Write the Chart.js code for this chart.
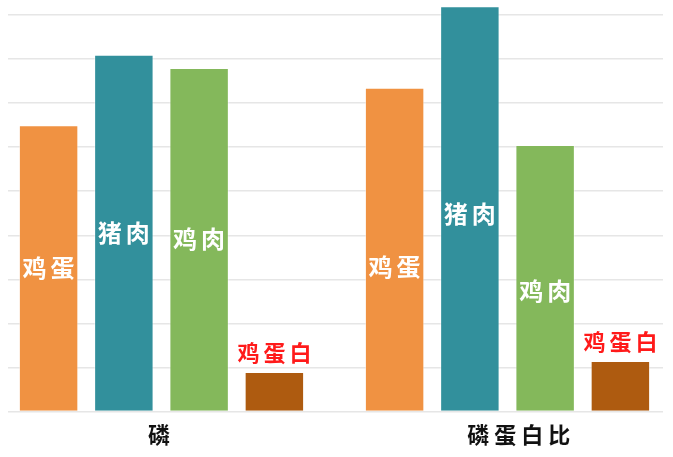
<!DOCTYPE html>
<html>
<head>
<meta charset="utf-8">
<script src="https://cdn.jsdelivr.net/npm/chart.js@4.4.1/dist/chart.umd.min.js"></script>
<style>
  html, body { margin: 0; padding: 0; background: #ffffff; }
  #wrap { width: 673px; height: 457px; position: relative; }
</style>
</head>
<body>
<div id="wrap"><canvas id="c"></canvas></div>
<script>
// ---- data ----
const categories = ['磷', '磷蛋白比'];
const seriesNames = ['鸡蛋', '猪肉', '鸡肉', '鸡蛋白'];
const eggValues = [130, 147];
const porkValues = [162, 184];
const chickenValues = [156, 121];
const eggWhiteValues = [18, 23];
const seriesColors = ['#F09242', '#32909C', '#84B85B', '#AE5B10'];

const allValues = [eggValues, porkValues, chickenValues, eggWhiteValues];

// label anchor (fraction of bar height from base) for the in-bar labels, per series per category
const labelFrac = [[0.5, 0.445], [0.5, 0.487], [0.5, 0.452], [null, null]];
// small horizontal nudge of the category labels (in category units)
const tickNudge = [0, 0.04];

const datasets = seriesNames.map((name, i) => ({
  label: name,
  data: allValues[i].map((v, k) => ({ x: k, y: v })),
  backgroundColor: seriesColors[i],
  borderColor: 'rgba(255,255,255,0.45)',
  borderWidth: 1,
  borderSkipped: 'start',
  barPercentage: 0.79,
  categoryPercentage: 0.87
}));

const CJK = '"Noto Sans CJK SC", "Noto Sans", sans-serif';

const spacingPlugin = {
  id: 'spacing',
  beforeLayout(chart) { chart.ctx.letterSpacing = '5px'; },
  beforeDraw(chart) { chart.ctx.letterSpacing = '5px'; }
};

const labelPlugin = {
  id: 'barLabels',
  afterDatasetsDraw(chart) {
    const ctx = chart.ctx;
    ctx.save();
    ctx.textAlign = 'center';
    ctx.textBaseline = 'middle';
    chart.data.datasets.forEach((ds, i) => {
      const meta = chart.getDatasetMeta(i);
      meta.data.forEach((el, k) => {
        const lastSeries = i === chart.data.datasets.length - 1;
        let y;
        if (lastSeries) {
          ctx.font = 'bold 22px ' + CJK;
          ctx.fillStyle = '#FF1A1A';
          ctx.letterSpacing = '4px';
          y = el.y - 19;
        } else {
          ctx.font = 'bold 24px ' + CJK;
          ctx.fillStyle = '#ffffff';
          ctx.letterSpacing = '4px';
          y = el.base - labelFrac[i][k] * (el.base - el.y);
        }
        ctx.fillText(ds.label, el.x + 2, y);
      });
    });
    ctx.restore();
  }
};

new Chart(document.getElementById('c'), {
  type: 'bar',
  data: { datasets },
  options: {
    responsive: true,
    maintainAspectRatio: false,
    animation: false,
    layout: { padding: { left: 8, right: 10, top: 4, bottom: 0 } },
    plugins: {
      legend: { display: false },
      tooltip: { enabled: false }
    },
    scales: {
      x: {
        type: 'linear',
        offset: false,
        min: -0.4436,
        max: 1.4494,
        afterBuildTicks(scale) {
          scale.ticks = categories.map((c, i) => ({ value: i + tickNudge[i] }));
        },
        grid: { display: false, drawTicks: false },
        border: { display: false },
        ticks: {
          padding: 9.5,
          color: '#111111',
          font: { family: CJK, size: 22, weight: 'bold' },
          maxRotation: 0,
          autoSkip: false,
          callback: (v, idx) => categories[idx]
        }
      },
      y: {
        min: 0,
        max: 185,
        grid: { color: '#e6e6e6', lineWidth: 1.6, drawTicks: false },
        border: { display: false },
        ticks: { display: false, stepSize: 20, includeBounds: false }
      }
    }
  },
  plugins: [spacingPlugin, labelPlugin]
});
</script>
</body>
</html>
